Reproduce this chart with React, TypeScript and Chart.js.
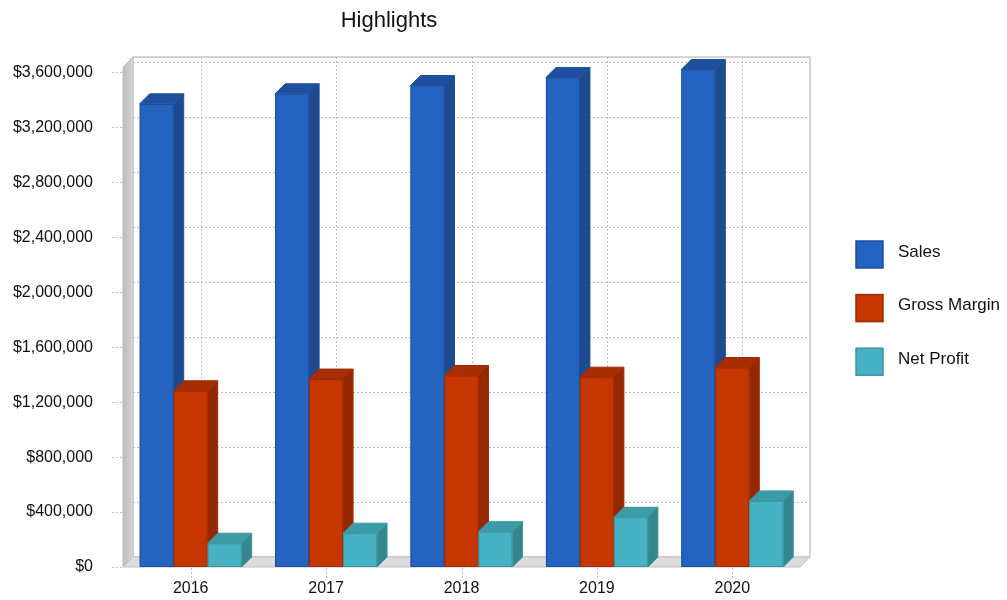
import React, { useEffect, useRef } from "react";
import { Chart, registerables } from "chart.js";

Chart.register(...registerables);

// ---- data ----
const categories = ["2016", "2017", "2018", "2019", "2020"];
const seriesNames = ["Sales", "Gross Margin", "Net Profit"];
const sales = [3372000, 3445000, 3505000, 3563000, 3622000];
const grossMargin = [1283000, 1368000, 1394000, 1382000, 1452000];
const netProfit = [173000, 246000, 257000, 362000, 481000];
const yTickValues = [0, 400000, 800000, 1200000, 1600000, 2000000, 2400000, 2800000, 3200000, 3600000];
const chartTitle = "Highlights";

// ---- styles ----
const FONT = '"Liberation Sans", Arial, sans-serif';
const DX = 10;
const DY = -10;
const faceColors = [
  { front: "#2563C0", side: "#1E4A8F", top: "#1F509E", border: "#1D4E9E" },
  { front: "#C63600", side: "#952800", top: "#A62E00", border: "#9E2C00" },
  { front: "#46B1C3", side: "#37868F", top: "#3D9BA7", border: "#3A95A2" },
];

const fmt = (v: number) => "$" + Math.round(v).toLocaleString("en-US");

const threeD = {
  id: "threeD",
  beforeDraw(chart: any) {
    const { ctx, chartArea: a, scales } = chart;
    const x = scales.x;
    const y = scales.y;
    ctx.save();
    // title
    ctx.fillStyle = "#111";
    ctx.font = `22px ${FONT}`;
    ctx.textAlign = "center";
    ctx.textBaseline = "middle";
    ctx.fillText(chartTitle, 389, 21);

    // back wall
    ctx.fillStyle = "#FFFFFF";
    ctx.fillRect(a.left + DX, a.top + DY, a.right - a.left, a.bottom - a.top);
    ctx.strokeStyle = "#C8C8C8";
    ctx.lineWidth = 1.5;
    ctx.strokeRect(a.left + DX, a.top + DY, a.right - a.left, a.bottom - a.top);

    // side wall
    const g = ctx.createLinearGradient(a.left, 0, a.left + DX, 0);
    g.addColorStop(0, "#BDBDBD");
    g.addColorStop(0.8, "#CFCFCF");
    g.addColorStop(1, "#E2E2E2");
    ctx.beginPath();
    ctx.moveTo(a.left, a.top);
    ctx.lineTo(a.left + DX, a.top + DY);
    ctx.lineTo(a.left + DX, a.bottom + DY);
    ctx.lineTo(a.left, a.bottom);
    ctx.closePath();
    ctx.fillStyle = g;
    ctx.fill();
    ctx.strokeStyle = "#C0C0C0";
    ctx.lineWidth = 1;
    ctx.stroke();

    // floor
    ctx.beginPath();
    ctx.moveTo(a.left, a.bottom);
    ctx.lineTo(a.left + DX, a.bottom + DY);
    ctx.lineTo(a.right + DX, a.bottom + DY);
    ctx.lineTo(a.right, a.bottom);
    ctx.closePath();
    ctx.fillStyle = "#DCDCDC";
    ctx.fill();
    ctx.strokeStyle = "#C2C2C2";
    ctx.lineWidth = 1;
    ctx.stroke();

    // grid lines
    ctx.setLineDash([2, 2]);
    ctx.strokeStyle = "#BDBDBD";
    ctx.lineWidth = 1;
    y.ticks.forEach((t: any) => {
      const py = Math.round(y.getPixelForValue(t.value)) + 0.5;
      if (t.value > 0) {
        ctx.beginPath();
        ctx.moveTo(a.left + DX, py + DY);
        ctx.lineTo(a.right + DX, py + DY);
        ctx.stroke();
      }
      ctx.beginPath();
      ctx.moveTo(a.left - 11, py);
      ctx.lineTo(a.left, py);
      ctx.stroke();
    });
    categories.forEach((_c, i) => {
      const px = Math.round(x.getPixelForValue(i)) + 0.5;
      ctx.beginPath();
      ctx.moveTo(px + DX, a.top + DY);
      ctx.lineTo(px + DX, a.bottom + DY);
      ctx.stroke();
      ctx.beginPath();
      ctx.moveTo(px, a.bottom + 1);
      ctx.lineTo(px, a.bottom + 13);
      ctx.stroke();
    });
    ctx.restore();
  },
  beforeDatasetsDraw(chart: any) {
    const { ctx } = chart;
    const n = chart.data.datasets.length;
    ctx.save();
    ctx.lineWidth = 1;
    ctx.lineJoin = "round";
    for (let i = 0; i < categories.length; i++) {
      for (let d = 0; d < n; d++) {
        const el = chart.getDatasetMeta(d).data[i];
        if (!el) continue;
        const { x, y, base, width } = el.getProps(["x", "y", "base", "width"], true);
        const l = x - width / 2;
        const r = x + width / 2;
        const c = faceColors[d];
        // side
        ctx.beginPath();
        ctx.moveTo(r, y);
        ctx.lineTo(r + DX, y + DY);
        ctx.lineTo(r + DX, base + DY);
        ctx.lineTo(r, base);
        ctx.closePath();
        ctx.fillStyle = c.side;
        ctx.fill();
        ctx.strokeStyle = c.border;
        ctx.stroke();
        // top
        ctx.beginPath();
        ctx.moveTo(l, y);
        ctx.lineTo(l + DX, y + DY);
        ctx.lineTo(r + DX, y + DY);
        ctx.lineTo(r, y);
        ctx.closePath();
        ctx.fillStyle = c.top;
        ctx.fill();
        ctx.stroke();
        // front
        ctx.fillStyle = c.front;
        ctx.fillRect(l, y, width, base - y);
        ctx.strokeStyle = c.border;
        ctx.strokeRect(l + 0.5, y + 0.5, width - 1, base - y - 1);
      }
    }
    ctx.restore();
    return false;
  },
  afterDraw(chart: any) {
    const { ctx } = chart;
    ctx.save();
    chart.data.datasets.forEach((ds: any, d: number) => {
      const bx = 856;
      const by = 241 + d * 53.6;
      ctx.fillStyle = faceColors[d].front;
      ctx.fillRect(bx, by, 27, 27);
      ctx.strokeStyle = faceColors[d].border;
      ctx.lineWidth = 1.5;
      ctx.strokeRect(bx, by, 27, 27);
      ctx.fillStyle = "#111";
      ctx.font = `17px ${FONT}`;
      ctx.textAlign = "left";
      ctx.textBaseline = "middle";
      ctx.fillText(ds.label, 898, by + 11);
    });
    ctx.restore();
  },
};

export default function App() {
  const ref = useRef<HTMLCanvasElement>(null);
  useEffect(() => {
    if (!ref.current) return;
    const series = [sales, grossMargin, netProfit];
    const chart = new Chart(ref.current, {
      type: "bar",
      data: {
        labels: categories,
        datasets: series.map((vals, d) => ({
          label: seriesNames[d],
          data: vals,
          backgroundColor: faceColors[d].front,
          borderColor: faceColors[d].border,
          barPercentage: 1,
          categoryPercentage: 0.753,
        })),
      },
      options: {
        responsive: false,
        animation: false,
        devicePixelRatio: 1,
        layout: { padding: { top: 67, right: 207, left: 0, bottom: 0 } },
        plugins: {
          legend: { display: false },
          title: { display: false },
          tooltip: { enabled: false },
        },
        scales: {
          x: {
            grid: { display: false, drawTicks: false },
            border: { display: false },
            ticks: { color: "#111", font: { family: FONT, size: 16 }, padding: 12 },
            afterFit: (s: any) => {
              s.height = 33;
              s.paddingLeft = 0;
              s.paddingRight = 0;
            },
          },
          y: {
            min: 0,
            max: 3640000,
            grid: { display: false, drawTicks: false },
            border: { display: false },
            ticks: {
              stepSize: 400000,
              includeBounds: false,
              color: "#111",
              font: { family: FONT, size: 16 },
              padding: 30,
              callback: (v: any) => fmt(Number(v)),
            },
            afterBuildTicks: (s: any) => {
              s.ticks = yTickValues.map((v) => ({ value: v }));
            },
            afterFit: (s: any) => {
              s.width = 123;
              s.paddingTop = 0;
              s.paddingBottom = 0;
            },
          },
        },
      },
      plugins: [threeD],
    } as any);
    return () => chart.destroy();
  }, []);
  return (
    <div style={{ position: "fixed", left: 0, top: 0, width: 1007, height: 600, background: "#fff" }}>
      <canvas ref={ref} width={1007} height={600} style={{ display: "block" }} />
    </div>
  );
}
